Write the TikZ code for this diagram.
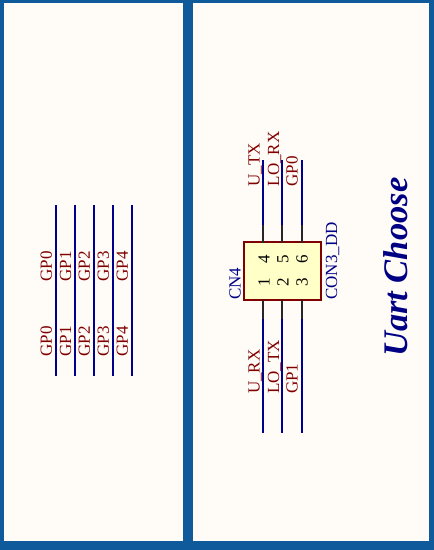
\documentclass[tikz,border=0pt]{standalone}
\usepackage{fontspec}
\setmainfont{Liberation Serif}
\definecolor{frameblue}{HTML}{0F5A9B}
\definecolor{paper}{HTML}{FFFCF8}
\definecolor{wireblue}{HTML}{00008F}
\definecolor{netred}{HTML}{800000}
\definecolor{textblue}{HTML}{000085}
\definecolor{bodyfill}{HTML}{FFFFC8}
\tikzset{
  px/.style={x=1pt,y=-1pt},
  sheet/.style={fill=paper,draw=none},
  wire/.style={draw=wireblue,line width=2pt},
  pinline/.style={draw=black!85,line width=2pt},
  netlabel/.style={rotate=90,anchor=base west,inner sep=0pt,text=netred,font=\fontsize{17}{17}\selectfont},
  deslabel/.style={rotate=90,anchor=base west,inner sep=0pt,text=textblue,font=\fontsize{17}{17}\selectfont},
  pinnum/.style={rotate=90,anchor=center,inner sep=0pt,text=black,font=\fontsize{17}{17}\selectfont},
  body/.style={draw=netred,fill=bodyfill,line width=2pt,minimum width=76.7pt,minimum height=57.7pt,inner sep=0pt,outer sep=0pt,anchor=north west},
  titlelabel/.style={rotate=90,anchor=base west,inner sep=0pt,text=textblue,font=\fontsize{34.5}{34.5}\selectfont\bfseries\itshape}
}
\begin{document}
\begin{tikzpicture}[px]
\useasboundingbox (0,0) rectangle (434,550);
\fill[frameblue] (0,0) rectangle (434,550);
\fill[sheet] (4,3) rectangle (183,541);
\fill[sheet] (193,3) rectangle (429,541);
% left sheet
\foreach \n/\x in {0/55.7,1/74.7,2/93.5,3/112.5,4/131.5}{
  \coordinate (lt\n) at (\x,205);
  \coordinate (lb\n) at (\x,376);
  \draw[wire] (lt\n) -- (lb\n);
  \node[netlabel] (lu\n) at (\x-3.7,281.5) {GP\n};
  \node[netlabel] (ll\n) at (\x-3.7,356.5) {GP\n};
}
% connector body
\node[body] (cn) at (244.2,242.3) {};
\foreach \i/\x in {1/263.2,2/282.4,3/301.6}{
  \coordinate (bt\i) at (\x,433);
  \coordinate (bm\i) at (\x,319);
  \coordinate (bp\i) at (\x,299.5);
  \draw[pinline] (bp\i) -- (bm\i);
  \draw[wire] (bm\i) -- (bt\i);
}
\foreach \i/\x in {4/263.2,5/282.4,6/301.6}{
  \coordinate (tt\i) at (\x,160);
  \coordinate (tm\i) at (\x,225);
  \coordinate (tp\i) at (\x,242.5);
  \draw[pinline] (tp\i) -- (tm\i);
  \draw[wire] (tm\i) -- (tt\i);
}
\foreach \i/\x in {1/264,2/283,3/302}{\node[pinnum] (n\i) at (\x,282) {\i};}
\foreach \i/\x in {4/264,5/283,6/302}{\node[pinnum] (n\i) at (\x,259) {\i};}
\node[netlabel] (utx) at (259.7,186.5) {U\_TX};
\node[netlabel] (lrx) at (279.2,186.5) {LO\_RX};
\node[netlabel] (gp0) at (297.7,186.5) {GP0};
\node[netlabel] (urx) at (259.7,394) {U\_RX};
\node[netlabel] (ltx) at (279.2,394) {LO\_TX};
\node[netlabel] (gp1) at (297.7,394) {GP1};
\node[deslabel] (des) at (240.5,300) {CN4};
\node[deslabel] (val) at (337,300) {CON3\_DD};
\node[titlelabel] (title) at (407,357) {Uart Choose};
\end{tikzpicture}
\end{document}
